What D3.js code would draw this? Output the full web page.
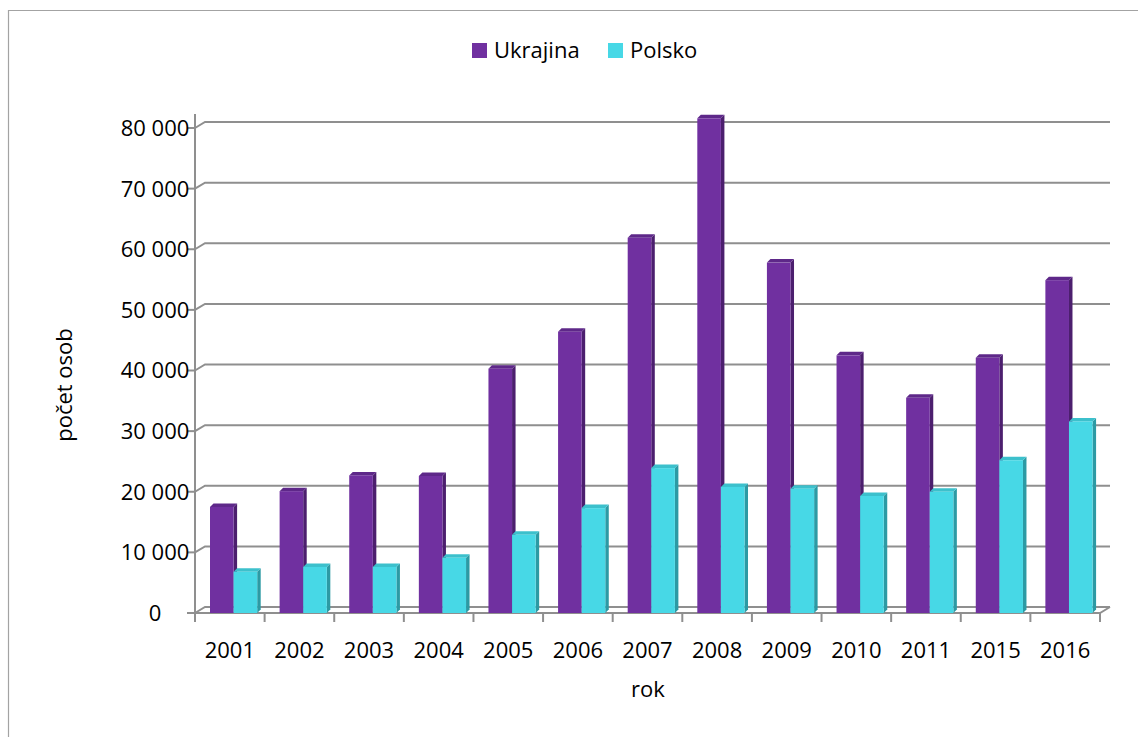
<!DOCTYPE html>
<html><head><meta charset="utf-8">
<script src="https://cdn.jsdelivr.net/npm/d3@7"></script>
<style>html,body{margin:0;padding:0;background:#fff;}svg{display:block;}</style>
</head><body>
<svg id="c" width="1139" height="737"></svg>
<script>
const years = ["2001","2002","2003","2004","2005","2006","2007","2008","2009","2010","2011","2015","2016"];
const ukrajina = [17500, 20100, 22700, 22600, 40300, 46400, 61900, 81600, 57800, 42500, 35500, 42100, 54900];
const polsko = [6800, 7600, 7600, 9100, 12900, 17300, 23900, 20800, 20500, 19300, 20000, 25200, 31600];
const yTicks = [0, 10000, 20000, 30000, 40000, 50000, 60000, 70000, 80000];
const seriesNames = ["Ukrajina", "Polsko"];
const colors = {front:["#7030A0","#47D8E6"], side:["#4C1F6E","#2C9AA4"], top:["#5E2889","#3CC0CC"]};

const svg = d3.select("#c");
const font = "'Open Sans', sans-serif";
const fs = 22;
const fmt = v => d3.format(",")(v).replace(/,/g, " ");

// frame
svg.append("line").attr("x1",8).attr("x2",1138).attr("y1",10.5).attr("y2",10.5).attr("stroke","#a3a3a3").attr("stroke-width",1.2);
svg.append("line").attr("x1",8.5).attr("x2",8.5).attr("y1",10).attr("y2",737).attr("stroke","#a3a3a3").attr("stroke-width",1.2);

const x = d3.scaleBand().domain(years).range([195, 1100]).padding(0);
const y = d3.scaleLinear().domain([0, 80000]).range([613, 128]);
const dX = 10, dY = 6; // wall depth
const grid = "#8f8f8f";

// back wall gridlines + side wall diagonals
yTicks.forEach(t => {
  const yy = y(t);
  svg.append("path").attr("d", `M195,${yy} L${195+dX},${yy-dY} L${1100+dX},${yy-dY}`)
    .attr("fill","none").attr("stroke",grid).attr("stroke-width",2);
  svg.append("line").attr("x1",187).attr("x2",195).attr("y1",yy).attr("y2",yy).attr("stroke",grid).attr("stroke-width",2);
  svg.append("text").attr("x",155).attr("y",yy).attr("dy","0.36em").attr("text-anchor","middle")
    .attr("font-family",font).attr("font-size",fs).attr("fill","#000").text(fmt(t));
});
// floor front edge
svg.append("path").attr("d", `M195,${y(0)} L1100,${y(0)} L${1100+dX},${y(0)-dY}`)
  .attr("fill","none").attr("stroke",grid).attr("stroke-width",2);
// y axis line
svg.append("line").attr("x1",195).attr("x2",195).attr("y1",114).attr("y2",y(0)).attr("stroke",grid).attr("stroke-width",2);
// category ticks
years.concat(["end"]).forEach((yr, i) => {
  const xx = i < years.length ? x(yr) : 1100;
  svg.append("line").attr("x1",xx).attr("x2",xx).attr("y1",y(0)).attr("y2",y(0)+9).attr("stroke",grid).attr("stroke-width",2);
});
// category labels
years.forEach(yr => {
  svg.append("text").attr("x", x(yr)+x.bandwidth()/2).attr("y", 658).attr("text-anchor","middle")
    .attr("font-family",font).attr("font-size",fs).attr("fill","#000").text(yr);
});

// bars
const bw = 23.6, off = 15, bdx = 3.5, bdy = 3.5;
[ukrajina, polsko].forEach((vals, s) => {
  vals.forEach((v, i) => {
    const x0 = x(years[i]) + off + s*bw, x1 = x0 + bw;
    const yt = y(v), yb = y(0);
    const g = svg.append("g");
    g.append("path").attr("d", `M${x1},${yt} L${x1+bdx},${yt-bdy} L${x1+bdx},${yb-bdy} L${x1},${yb} Z`).attr("fill", colors.side[s]);
    g.append("path").attr("d", `M${x0},${yt} L${x0+bdx},${yt-bdy} L${x1+bdx},${yt-bdy} L${x1},${yt} Z`).attr("fill", colors.top[s]);
    g.append("rect").attr("x", x0).attr("y", yt).attr("width", bw).attr("height", yb-yt).attr("fill", colors.front[s]);
  });
});

// axis titles
svg.append("text").attr("transform","translate(72,385) rotate(-90)").attr("text-anchor","middle")
  .attr("font-family",font).attr("font-size",fs).attr("fill","#000").text("počet osob");
svg.append("text").attr("x",648).attr("y",697).attr("text-anchor","middle")
  .attr("font-family",font).attr("font-size",fs).attr("fill","#000").text("rok");

// legend
const legX = [472, 608];
seriesNames.forEach((n, s) => {
  svg.append("rect").attr("x", legX[s]).attr("y", 43).attr("width", 15).attr("height", 15).attr("fill", colors.front[s]);
  svg.append("text").attr("x", legX[s]+22).attr("y", 58).attr("font-family",font).attr("font-size",fs).attr("fill","#000").text(n);
});
</script>
</body></html>
